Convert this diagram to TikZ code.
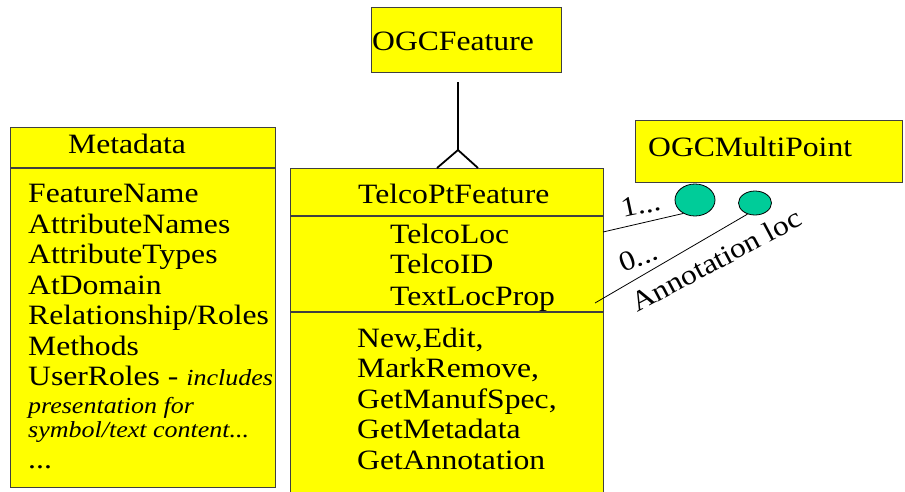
\documentclass[tikz,border=0pt]{standalone}
\usepackage{fontspec}
\usepackage{graphicx}
\setmainfont{Liberation Serif}
\usetikzlibrary{shapes.geometric}
\definecolor{boxfill}{HTML}{FFFF00}
\definecolor{boxline}{HTML}{404040}
\definecolor{ellfill}{HTML}{00CC99}
\newcommand{\sx}[1]{\scalebox{1.13}[1]{#1}}
\tikzset{
  umlbox/.style={draw=boxline, line width=1.2pt, fill=boxfill, rectangle, anchor=north west, inner sep=0pt},
  txt/.style={anchor=base west, inner sep=0pt, font=\fontsize{28}{30.5}\selectfont},
  itxt/.style={anchor=base west, inner sep=0pt, font=\fontsize{23}{24}\selectfont\itshape},
  divider/.style={draw=boxline, line width=1.2pt},
  assoc/.style={draw=black, line width=0.8pt},
  inherit/.style={draw=black, line width=1.8pt},
  mpoint/.style={ellipse, draw=black, line width=0.8pt, fill=ellfill, inner sep=0pt}
}
\begin{document}
\begin{tikzpicture}[x=1pt,y=-1pt]
\useasboundingbox (0,0) rectangle (905,491);
\clip (0,0) rectangle (905,491);
% boxes
\node[umlbox, minimum width=190pt, minimum height=65pt] (ogcf) at (371,7) {};
\node[umlbox, minimum width=267pt, minimum height=62pt] (ogcmp) at (635,120) {};
\node[umlbox, minimum width=265pt, minimum height=360pt] (meta) at (10,127) {};
\node[umlbox, minimum width=313pt, minimum height=330pt] (telco) at (290,168) {};
% dividers
\draw[divider] (10,168) -- (275,168);
\draw[divider] (290,216) -- (603,216);
\draw[divider] (290,312) -- (603,312);
% titles
\node[txt] (tf) at (372,50) {\sx{OGCFeature}};
\node[txt] (tmp) at (648,156) {\sx{OGCMultiPoint}};
\node[txt] (tm) at (68,153) {\sx{Metadata}};
\node[txt] (tt) at (358,203) {\sx{TelcoPtFeature}};
% metadata contents
\node[txt] (m1) at (28,202.5) {\sx{FeatureName}};
\node[txt] (m2) at (28,233) {\sx{AttributeNames}};
\node[txt] (m3) at (28,263.5) {\sx{AttributeTypes}};
\node[txt] (m4) at (28,294) {\sx{AtDomain}};
\node[txt] (m5) at (28,324.5) {\sx{Relationship/Roles}};
\node[txt] (m6) at (28,355) {\sx{Methods}};
\node[txt] (m7) at (28,385.5) {\sx{UserRoles - {\fontsize{23}{24}\selectfont\itshape includes}}};
\node[itxt] (m8) at (28,413) {\sx{presentation for}};
\node[itxt] (m9) at (28,437) {\sx{symbol/text content...}};
\node[txt] (m10) at (28,468) {\sx{...}};
% telco attributes
\node[txt] (a1) at (390,243) {\sx{TelcoLoc}};
\node[txt] (a2) at (390,273.5) {\sx{TelcoID}};
\node[txt] (a3) at (390,305) {\sx{TextLocProp}};
% telco methods
\node[txt] (o1) at (357,347) {\sx{New,Edit,}};
\node[txt] (o2) at (357,377.5) {\sx{MarkRemove,}};
\node[txt] (o3) at (357,408) {\sx{GetManufSpec,}};
\node[txt] (o4) at (357,438.5) {\sx{GetMetadata}};
\node[txt] (o5) at (357,469) {\sx{GetAnnotation}};
% inheritance
\coordinate (inhTop) at (458,82);
\coordinate (inhApex) at (458,150);
\coordinate (inhL) at (437,168);
\coordinate (inhR) at (478,168);
\draw[inherit] (inhTop) -- (inhApex);
\draw[inherit] (inhL) -- (inhApex) -- (inhR);
% multipoint ellipses
\node[mpoint, minimum width=40pt, minimum height=32pt] (ell1) at (695,200) {};
\node[mpoint, minimum width=33pt, minimum height=24pt] (ell2) at (755,203) {};
\coordinate (locEnd) at (603,232);
\coordinate (annEnd) at (595,303);
\draw[assoc] (ell1.229) -- (locEnd);
\draw[assoc] (ell2.236) -- (annEnd);
% labels
\node[txt, rotate=12] (l1) at (623,218) {\sx{1...}};
\node[txt, rotate=21] (l0) at (623,273) {\sx{0...}};
\node[txt, rotate=28] (lann) at (637,313) {\sx{Annotation loc}};
\end{tikzpicture}
\end{document}
